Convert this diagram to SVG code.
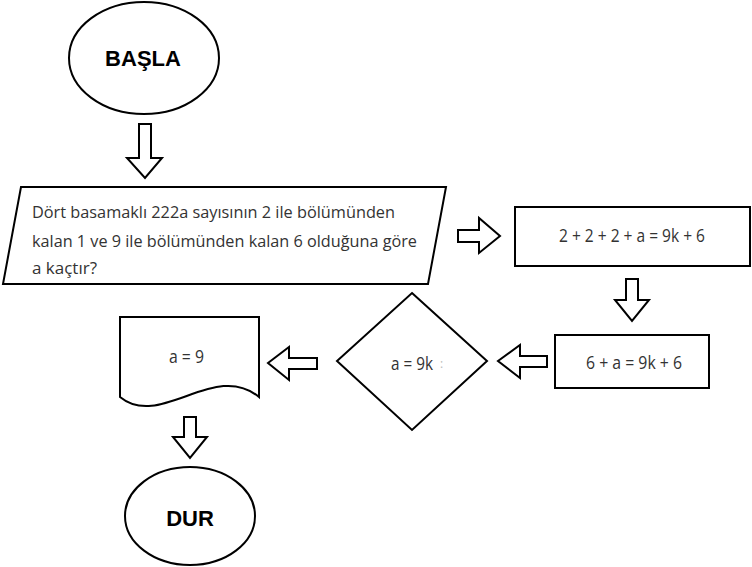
<svg xmlns="http://www.w3.org/2000/svg" width="752" height="567" viewBox="0 0 752 567">
<style>
.shape{fill:#fff;stroke:#000;stroke-width:2}
.arrow{fill:#fff;stroke:#000;stroke-width:2;stroke-linejoin:miter}
.term{font-family:"Liberation Sans",Arial,sans-serif;font-weight:bold;font-size:22px;fill:#000;text-anchor:middle}
.body{font-family:"Open Sans","Noto Sans",sans-serif;font-size:16.5px;fill:#333}
.math{font-family:"Open Sans","Noto Sans",sans-serif;font-size:18px;fill:#333}
.faint{font-family:"Open Sans","Noto Sans",sans-serif;font-size:12px;fill:#bbb}
</style>
<rect width="752" height="567" fill="#fff"/>
<g id="basla">
<ellipse class="shape" cx="144" cy="58" rx="75" ry="56"/>
<text class="term" x="143" y="66">BAŞLA</text>
</g>
<g id="input">
<polygon class="shape" points="21,187 446,187 428,284 3,284"/>
<text class="body" x="32" y="218" textLength="363" lengthAdjust="spacingAndGlyphs">Dört basamaklı 222a sayısının 2 ile bölümünden</text>
<text class="body" x="32" y="247" textLength="385" lengthAdjust="spacingAndGlyphs">kalan 1 ve 9 ile bölümünden kalan 6 olduğuna göre</text>
<text class="body" x="32" y="274" textLength="65" lengthAdjust="spacingAndGlyphs">a kaçtır?</text>
</g>
<g id="step1">
<rect class="shape" x="515" y="207" width="235" height="59"/>
<text class="math" x="559" y="242" textLength="146" lengthAdjust="spacingAndGlyphs">2 + 2 + 2 + a = 9k + 6</text>
</g>
<g id="step2">
<rect class="shape" x="555" y="335" width="154" height="53"/>
<text class="math" x="586" y="369" textLength="96" lengthAdjust="spacingAndGlyphs">6 + a = 9k + 6</text>
</g>
<g id="decision">
<polygon class="shape" points="412,293 487,361 412,430 337,361"/>
<text class="math" x="391" y="370" textLength="42" lengthAdjust="spacingAndGlyphs">a = 9k</text>
<text class="faint" x="440" y="368">:</text>
</g>
<g id="output">
<path class="shape" d="M120,317 L259,317 L259,397 C215,360 160,430 120,397 Z"/>
<text class="math" x="169" y="363" textLength="35" lengthAdjust="spacingAndGlyphs">a = 9</text>
</g>
<g id="dur">
<ellipse class="shape" cx="190" cy="516" rx="65" ry="49"/>
<text class="term" x="190" y="526">DUR</text>
</g>
<g id="connectors">
<polygon class="arrow" points="139,124 151,124 151,158 162,158 145,178 127,158 139,158"/>
<polygon class="arrow" points="458,230 479,230 479,218 500,236 479,253 479,242 458,242"/>
<polygon class="arrow" points="626,279 638,279 638,300 649,300 632,321 615,300 626,300"/>
<polygon class="arrow" points="547,356 520,356 520,345 498,361 520,378 520,367 547,367"/>
<polygon class="arrow" points="317,358 289,358 289,347 268,363 289,380 289,369 317,369"/>
<polygon class="arrow" points="184,417 196,417 196,437 207,437 190,458 173,437 184,437"/>
</g>
</svg>
